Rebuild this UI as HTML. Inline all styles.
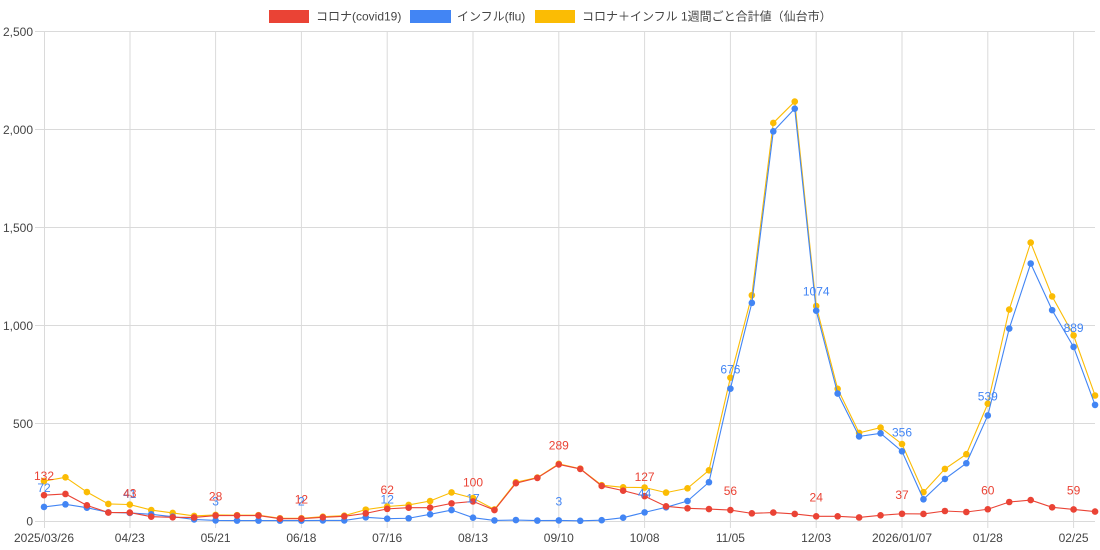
<!DOCTYPE html>
<html><head><meta charset="utf-8"><style>
html,body{margin:0;padding:0;background:#fff;}
svg{display:block;font-family:"Liberation Sans","Noto Sans CJK JP",sans-serif;}
</style></head><body>
<svg width="1100" height="550" viewBox="0 0 1100 550" xmlns="http://www.w3.org/2000/svg">
<defs>
<marker id="my" markerWidth="8" markerHeight="8" refX="4" refY="4" markerUnits="userSpaceOnUse"><circle cx="4" cy="4" r="3.3" fill="#fbbc04"/></marker>
<marker id="mb" markerWidth="8" markerHeight="8" refX="4" refY="4" markerUnits="userSpaceOnUse"><circle cx="4" cy="4" r="3.3" fill="#4285f4"/></marker>
<marker id="mr" markerWidth="8" markerHeight="8" refX="4" refY="4" markerUnits="userSpaceOnUse"><circle cx="4" cy="4" r="3.3" fill="#ea4335"/></marker>
</defs>
<!-- legend -->
<rect x="269" y="10" width="40" height="13" fill="#ea4335"/>
<text x="316" y="20.5" font-size="12" fill="#444">コロナ(covid19)</text>
<rect x="410" y="10" width="41" height="13" fill="#4285f4"/>
<text x="457" y="20.5" font-size="12" fill="#444">インフル(flu)</text>
<rect x="535" y="10" width="40" height="13" fill="#fbbc04"/>
<text x="582" y="20.5" font-size="12" fill="#444">コロナ＋インフル 1週間ごと合計値（仙台市）</text>
<!-- gridlines -->
<g stroke="#dadada" stroke-width="1" fill="none">
<line x1="35" y1="31.5" x2="1095" y2="31.5"/>
<line x1="35" y1="129.5" x2="1095" y2="129.5"/>
<line x1="35" y1="227.5" x2="1095" y2="227.5"/>
<line x1="35" y1="325.5" x2="1095" y2="325.5"/>
<line x1="35" y1="423.5" x2="1095" y2="423.5"/>
<line x1="35" y1="521.5" x2="1095" y2="521.5"/>
<line x1="44.5" y1="31.5" x2="44.5" y2="528"/>
<line x1="130" y1="31.5" x2="130" y2="528"/>
<line x1="215.6" y1="31.5" x2="215.6" y2="528"/>
<line x1="301.4" y1="31.5" x2="301.4" y2="528"/>
<line x1="387.2" y1="31.5" x2="387.2" y2="528"/>
<line x1="473" y1="31.5" x2="473" y2="528"/>
<line x1="558.8" y1="31.5" x2="558.8" y2="528"/>
<line x1="644.6" y1="31.5" x2="644.6" y2="528"/>
<line x1="730.4" y1="31.5" x2="730.4" y2="528"/>
<line x1="816.2" y1="31.5" x2="816.2" y2="528"/>
<line x1="902" y1="31.5" x2="902" y2="528"/>
<line x1="987.8" y1="31.5" x2="987.8" y2="528"/>
<line x1="1073.6" y1="31.5" x2="1073.6" y2="528"/>
</g>
<!-- y labels -->
<g font-size="12" fill="#444" text-anchor="end">
<text x="33" y="36">2,500</text>
<text x="33" y="134">2,000</text>
<text x="33" y="232">1,500</text>
<text x="33" y="330">1,000</text>
<text x="33" y="428">500</text>
<text x="33" y="525.5">0</text>
</g>
<!-- x labels -->
<g font-size="12" fill="#444" text-anchor="middle">
<text x="44" y="542">2025/03/26</text>
<text x="129.8" y="542">04/23</text>
<text x="215.6" y="542">05/21</text>
<text x="301.4" y="542">06/18</text>
<text x="387.2" y="542">07/16</text>
<text x="473" y="542">08/13</text>
<text x="558.8" y="542">09/10</text>
<text x="644.6" y="542">10/08</text>
<text x="730.4" y="542">11/05</text>
<text x="816.2" y="542">12/03</text>
<text x="902" y="542">2026/01/07</text>
<text x="987.8" y="542">01/28</text>
<text x="1073.6" y="542">02/25</text>
</g>
<!-- yellow series -->
<polyline fill="none" stroke="#fbbc04" stroke-width="1.1" marker-start="url(#my)" marker-mid="url(#my)" marker-end="url(#my)" points="44,481.06 65.45,477.34 86.9,492.02 108.35,503.97 129.8,504.55 151.25,510.04 172.7,512.97 194.15,515.91 215.6,514.93 237.05,515.13 258.5,515.13 279.95,518.26 301.4,518.26 322.85,516.69 344.3,515.71 365.75,509.64 387.2,506.51 408.65,504.94 430.1,501.03 451.55,492.41 473,498.09 494.45,509.45 515.9,482.23 537.35,477.53 558.8,463.83 580.25,468.72 601.7,485.17 623.15,487.32 644.6,487.52 666.05,492.61 687.5,488.3 708.95,470.29 730.4,377.67 751.85,295.24 773.3,122.94 794.75,101.6 816.2,306.01 837.65,388.83 859.1,432.89 880.55,427.6 902,444.05 923.45,492.22 944.9,468.92 966.35,454.23 987.8,403.72 1009.25,309.54 1030.7,242.57 1052.15,296.42 1073.6,335.38 1095.05,395.49"/>
<!-- blue series -->
<polyline fill="none" stroke="#4285f4" stroke-width="1.1" marker-start="url(#mb)" marker-mid="url(#mb)" marker-end="url(#mb)" points="44,506.9 65.45,504.36 86.9,507.69 108.35,512.38 129.8,512.97 151.25,514.34 172.7,516.69 194.15,519.43 215.6,520.41 237.05,520.61 258.5,520.61 279.95,520.61 301.4,520.61 322.85,520.41 344.3,520.41 365.75,517.28 387.2,518.65 408.65,518.26 430.1,514.34 451.55,510.04 473,517.67 494.45,520.41 515.9,520.02 537.35,520.61 558.8,520.41 580.25,520.8 601.7,520.22 623.15,517.67 644.6,512.38 666.05,507.29 687.5,501.03 708.95,482.23 730.4,388.64 751.85,302.88 773.3,131.36 794.75,108.65 816.2,310.71 837.65,393.53 859.1,436.41 880.55,433.28 902,451.3 923.45,499.27 944.9,478.9 966.35,463.24 987.8,415.46 1009.25,328.53 1030.7,263.52 1052.15,310.12 1073.6,346.93 1095.05,404.89"/>
<!-- red series -->
<polyline fill="none" stroke="#ea4335" stroke-width="1.1" marker-start="url(#mr)" marker-mid="url(#mr)" marker-end="url(#mr)" points="44,495.15 65.45,493.98 86.9,505.34 108.35,512.58 129.8,512.58 151.25,516.69 172.7,517.28 194.15,517.48 215.6,515.52 237.05,515.52 258.5,515.52 279.95,518.65 301.4,518.65 322.85,517.28 344.3,516.3 365.75,513.36 387.2,508.86 408.65,507.69 430.1,507.69 451.55,503.38 473,501.42 494.45,510.04 515.9,483.21 537.35,477.92 558.8,464.41 580.25,468.92 601.7,485.95 623.15,490.65 644.6,496.13 666.05,506.31 687.5,508.27 708.95,509.06 730.4,510.04 751.85,513.36 773.3,512.58 794.75,513.95 816.2,516.3 837.65,516.3 859.1,517.48 880.55,515.32 902,513.76 923.45,513.95 944.9,511.01 966.35,511.99 987.8,509.25 1009.25,502.01 1030.7,500.05 1052.15,507.29 1073.6,509.45 1095.05,511.6"/>
<!-- blue annotations -->
<g font-size="12" fill="#4285f4" text-anchor="middle">
<text x="44" y="492">72</text>
<text x="129.8" y="498">41</text>
<text x="215.6" y="505.4">3</text>
<text x="301.4" y="505.6">2</text>
<text x="387.2" y="503.7">12</text>
<text x="473" y="502.7">17</text>
<text x="558.8" y="505.4">3</text>
<text x="644.6" y="497.4">44</text>
<text x="730.4" y="373.6">676</text>
<text x="816.2" y="295.7">1074</text>
<text x="902" y="436.3">356</text>
<text x="987.8" y="400.5">539</text>
<text x="1073.6" y="331.9">889</text>
</g>
<!-- red annotations -->
<g font-size="12" fill="#ea4335" text-anchor="middle">
<text x="44" y="480.2">132</text>
<text x="129.8" y="497.6">43</text>
<text x="215.6" y="500.5">28</text>
<text x="301.4" y="503.6">12</text>
<text x="387.2" y="493.9">62</text>
<text x="473" y="486.4">100</text>
<text x="558.8" y="449.4">289</text>
<text x="644.6" y="481.1">127</text>
<text x="730.4" y="495">56</text>
<text x="816.2" y="501.3">24</text>
<text x="902" y="498.8">37</text>
<text x="987.8" y="494.3">60</text>
<text x="1073.6" y="494.5">59</text>
</g>
</svg>
</body></html>
